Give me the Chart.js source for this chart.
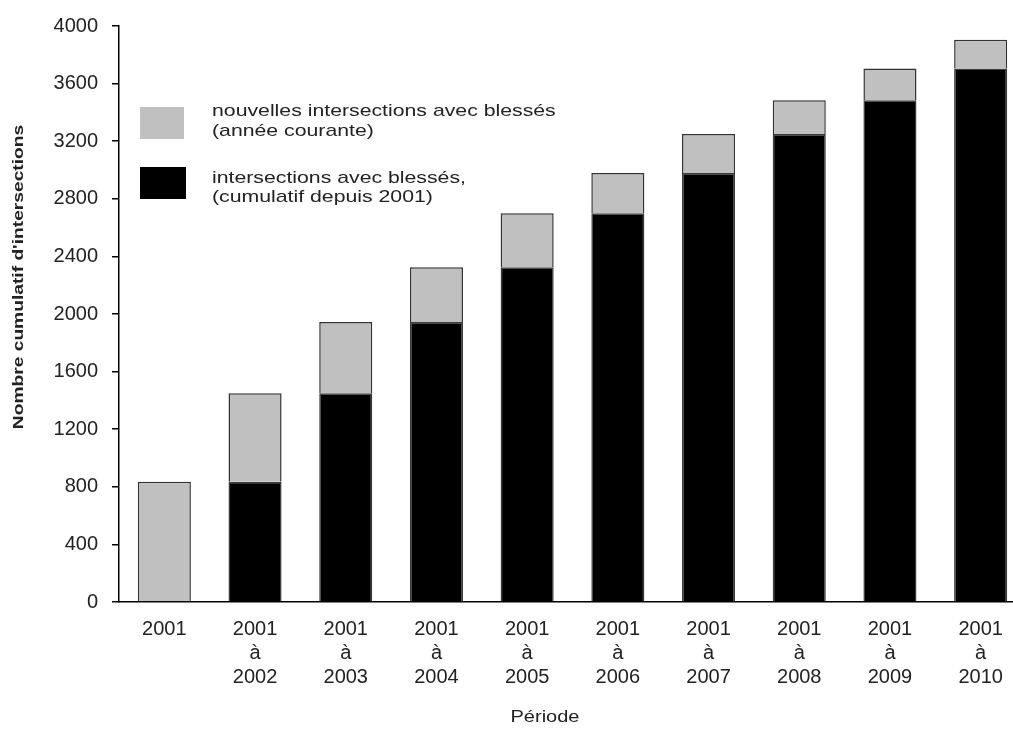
<!DOCTYPE html>
<html>
<head>
<meta charset="utf-8">
<title>Intersections avec blessés</title>
<script src="https://cdn.jsdelivr.net/npm/chart.js@4.4.0/dist/chart.umd.min.js"></script>
<style>
    html, body { margin: 0; padding: 0; background: #fff; overflow: hidden; }
    #wrap { position: relative; width: 1030px; height: 731px; }
</style>
</head>
<body>
<div id="wrap"><canvas id="chart"></canvas></div>
<script>
// Data
const categories = [
    ['2001'],
    ['2001', 'à', '2002'],
    ['2001', 'à', '2003'],
    ['2001', 'à', '2004'],
    ['2001', 'à', '2005'],
    ['2001', 'à', '2006'],
    ['2001', 'à', '2007'],
    ['2001', 'à', '2008'],
    ['2001', 'à', '2009'],
    ['2001', 'à', '2010']
];
const cumulative = [0, 835, 1450, 1945, 2325, 2700, 2980, 3250, 3485, 3705];
const newThisYear = [835, 615, 495, 380, 375, 280, 270, 235, 220, 200];

const legendNew = ['nouvelles intersections avec blessés', '(année courante)'];
const legendCumul = ['intersections avec blessés,', '(cumulatif depuis 2001)'];
const yTitle = "Nombre cumulatif d'intersections";
const xTitle = 'Période';

const FONT = '"Liberation Sans", Arial, sans-serif';

// the original text is a bit wider than Arial, stretch it horizontally
function wideText(ctx, text, x, y, sx) {
    ctx.save();
    ctx.translate(x, y);
    ctx.scale(sx, 1);
    ctx.fillText(text, 0, 0);
    ctx.restore();
}

// Legend and axis titles drawn by hand, placed like the original
const annotations = {
    id: 'annotations',
    afterDraw(chart) {
        const ctx = chart.ctx;
        ctx.save();

        ctx.fillStyle = '#c0c0c0';
        ctx.fillRect(140, 107, 44, 32);
        ctx.fillStyle = '#000';
        ctx.fillRect(140, 167, 46, 32);

        ctx.fillStyle = '#222';
        ctx.font = '17px ' + FONT;
        ctx.textBaseline = 'middle';
        ctx.textAlign = 'left';
        wideText(ctx, legendNew[0], 212, 111, 1.25);
        wideText(ctx, legendNew[1], 212, 131, 1.25);
        wideText(ctx, legendCumul[0], 212, 178, 1.25);
        wideText(ctx, legendCumul[1], 212, 197, 1.25);

        ctx.textAlign = 'center';
        ctx.font = '16px ' + FONT;
        wideText(ctx, xTitle, 545, 718, 1.25);

        ctx.translate(19, 277);
        ctx.rotate(-Math.PI / 2);
        ctx.font = 'bold 15px ' + FONT;
        wideText(ctx, yTitle, 0, 0, 1.28);

        ctx.restore();
    }
};

const ctx = document.getElementById('chart');

new Chart(ctx, {
    type: 'bar',
    data: {
        labels: categories,
        datasets: [{
            label: legendCumul.join(' '),
            data: cumulative,
            backgroundColor: '#000000',
            borderColor: '#3a3a3a',
            borderWidth: 1.5,
            categoryPercentage: 1,
            barPercentage: 0.585
        }, {
            label: legendNew.join(' '),
            data: newThisYear,
            backgroundColor: '#c0c0c0',
            borderColor: '#333333',
            borderWidth: 1.5,
            categoryPercentage: 1,
            barPercentage: 0.585
        }]
    },
    options: {
        responsive: true,
        maintainAspectRatio: false,
        animation: false,
        layout: {
            padding: { top: 24, right: 4, left: 0, bottom: 0 }
        },
        plugins: {
            legend: { display: false },
            tooltip: { enabled: false }
        },
        scales: {
            x: {
                stacked: true,
                grid: { display: false },
                border: { display: true, color: '#000', width: 1.5 },
                ticks: {
                    color: '#222',
                    font: { family: FONT, size: 20, lineHeight: 1.2 },
                    padding: 7,
                    maxRotation: 0,
                    autoSkip: false
                },
                afterFit: function(axis) { axis.height = 129; }
            },
            y: {
                stacked: true,
                min: 0,
                max: 4000,
                grid: {
                    display: true,
                    drawOnChartArea: false,
                    drawTicks: true,
                    tickLength: 7,
                    color: '#000',
                    lineWidth: 1.5
                },
                border: { display: true, color: '#000', width: 1.5 },
                ticks: {
                    stepSize: 400,
                    color: '#222',
                    font: { family: FONT, size: 20 },
                    padding: 14,
                    callback: function(value) { return String(value); }
                },
                afterFit: function(axis) { axis.width = 119; }
            }
        }
    },
    plugins: [annotations]
});
</script>
</body>
</html>
